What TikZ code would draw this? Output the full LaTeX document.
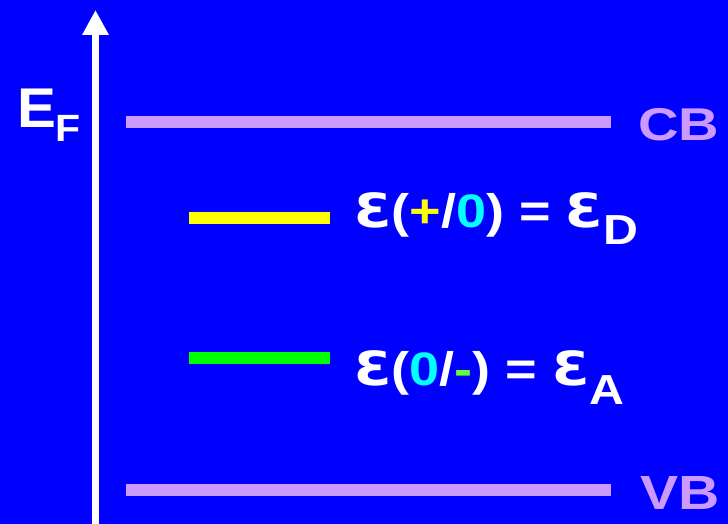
\documentclass[tikz,border=0pt]{standalone}
\usepackage{fontspec}
\setmainfont{Liberation Sans}
\newfontfamily\dvs{DejaVu Sans}
\usetikzlibrary{arrows.meta}
\definecolor{bgblue}{HTML}{0000FF}
\definecolor{lav}{HTML}{CC99FF}
\definecolor{dyellow}{HTML}{FFFF00}
\definecolor{dcyan}{HTML}{00FFFF}
\definecolor{agreen}{HTML}{00FF00}
\definecolor{mgreen}{HTML}{66FF33}
\tikzset{
  band/.style={draw=lav,line width=12pt},
  level/.style={line width=12pt},
  lbl/.style={anchor=base west,inner sep=0pt,outer sep=0pt,text=white,font=\bfseries},
}
\newcommand{\fs}[1]{\fontsize{#1}{#1}\selectfont}
\newcommand{\wide}[2]{\scalebox{#1}[1]{#2}}
\newcommand{\eps}{{\dvs\bfseries Ɛ}}
\begin{document}
\begin{tikzpicture}[x=1pt,y=-1pt]
\fill[bgblue] (0,0) rectangle (728,524);
\useasboundingbox (0,0) rectangle (728,524);
% axis
\coordinate (axbot) at (95.5,526);
\coordinate (axtop) at (95.5,10);
\draw[white,line width=7.5pt,-{Triangle[width=25pt,length=25pt]}] (axbot) -- (axtop);
\node[lbl] (E) at (17,128) {\wide{1.04}{\fs{56}E}};
\node[lbl] (F) at (55,142) {\wide{1.08}{\fs{38}F}};
% bands
\coordinate (cbl) at (126,122);
\coordinate (cbr) at (611,122);
\coordinate (vbl) at (126,489.5);
\coordinate (vbr) at (611,489.5);
\draw[band] (cbl) -- (cbr);
\draw[band] (vbl) -- (vbr);
\node[lbl,text=lav] (CB) at (638,140) {\wide{1.22}{\fs{46}CB}};
\node[lbl,text=lav] (VB) at (640,509) {\wide{1.19}{\fs{48}VB}};
% levels
\coordinate (dl) at (189,218);
\coordinate (dr) at (330,218);
\coordinate (al) at (189,358);
\coordinate (ar) at (330,358);
\draw[level,dyellow] (dl) -- (dr);
\draw[level,agreen] (al) -- (ar);
\node[lbl] (ED) at (354,227)
  {\wide{1.15}{\fs{47}\eps(\textcolor{dyellow}{+}/\textcolor{dcyan}{0}) = \eps\raisebox{-17pt}{\fs{42}D}}};
\node[lbl] (EA) at (354,385)
  {\wide{1.15}{\fs{47}\eps(\textcolor{dcyan}{0}/\textcolor{mgreen}{-}) = \eps\raisebox{-19pt}{\fs{42}A}}};
\end{tikzpicture}
\end{document}
